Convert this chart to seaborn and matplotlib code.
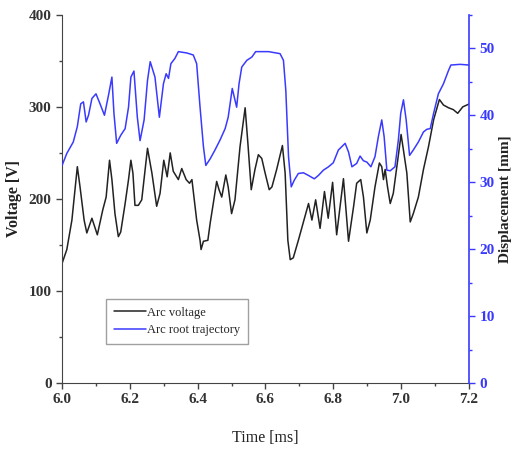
import matplotlib
matplotlib.use("Agg")
import matplotlib.pyplot as plt
from matplotlib.ticker import MultipleLocator, FormatStrFormatter
import seaborn as sns
import pandas as pd

sns.set_style("ticks")
plt.rcParams["font.family"] = ["Liberation Serif", "DejaVu Serif"]

# arc voltage [V] vs time [ms]
t_volt = [6.000, 6.014, 6.029, 6.045, 6.053, 6.065, 6.073, 6.088, 6.104, 6.120,
          6.130, 6.140, 6.147, 6.156, 6.166, 6.173, 6.186, 6.196, 6.203, 6.209,
          6.215, 6.225, 6.235, 6.252, 6.265, 6.279, 6.289, 6.300, 6.310, 6.319,
          6.328, 6.343, 6.353, 6.366, 6.376, 6.383, 6.397, 6.407, 6.410, 6.417,
          6.430, 6.437, 6.446, 6.456, 6.463, 6.471, 6.483, 6.490, 6.500, 6.510,
          6.525, 6.540, 6.548, 6.558, 6.569, 6.579, 6.589, 6.599, 6.611, 6.619,
          6.633, 6.650, 6.658, 6.666, 6.673, 6.682, 6.697, 6.712, 6.727, 6.737,
          6.748, 6.761, 6.774, 6.785, 6.798, 6.810, 6.830, 6.845, 6.860, 6.869,
          6.881, 6.889, 6.899, 6.909, 6.923, 6.936, 6.943, 6.948, 6.953, 6.960,
          6.968, 6.977, 6.990, 7.000, 7.007, 7.017, 7.027, 7.036, 7.051, 7.066,
          7.081, 7.096, 7.113, 7.125, 7.140, 7.154, 7.167, 7.182, 7.200]
voltage = [130, 145, 177, 235, 213, 177, 163, 179, 161, 188,
           202, 242, 221, 184, 159, 164, 195, 221, 242, 228,
           193, 193, 199, 255, 228, 192, 206, 242, 224, 250,
           230, 221, 233, 221, 217, 221, 177, 155, 145, 154,
           155, 174, 195, 219, 210, 202, 226, 213, 184, 199,
           257, 299, 261, 210, 232, 248, 244, 228, 210, 213,
           232, 258, 228, 155, 134, 136, 155, 175, 195, 177,
           199, 168, 208, 179, 218, 161, 222, 154, 192, 217,
           221, 202, 163, 177, 213, 239, 235, 221, 232, 213,
           195, 206, 242, 270, 253, 228, 175, 184, 202, 232,
           257, 286, 308, 302, 299, 297, 293, 300, 303]

# arc root displacement [mm] vs time [ms]
t_disp = [6.000, 6.014, 6.033, 6.045, 6.055, 6.063, 6.071, 6.078, 6.088, 6.100,
          6.112, 6.125, 6.137, 6.147, 6.153, 6.161, 6.173, 6.186, 6.196, 6.203,
          6.212, 6.222, 6.230, 6.242, 6.252, 6.260, 6.274, 6.287, 6.299, 6.307,
          6.314, 6.321, 6.333, 6.343, 6.368, 6.387, 6.397, 6.407, 6.417, 6.424,
          6.437, 6.451, 6.466, 6.481, 6.490, 6.502, 6.508, 6.515, 6.522, 6.530,
          6.545, 6.560, 6.571, 6.609, 6.643, 6.653, 6.660, 6.668, 6.676, 6.685,
          6.697, 6.712, 6.727, 6.744, 6.756, 6.771, 6.786, 6.800, 6.815, 6.835,
          6.845, 6.855, 6.869, 6.879, 6.889, 6.899, 6.911, 6.923, 6.933, 6.943,
          6.950, 6.958, 6.968, 6.982, 6.992, 6.999, 7.007, 7.015, 7.025, 7.036,
          7.051, 7.066, 7.076, 7.086, 7.096, 7.110, 7.125, 7.140, 7.147, 7.174,
          7.200]
displacement = [32.5, 34.3, 36.0, 38.3, 41.7, 42.0, 39.0, 40.0, 42.5, 43.2,
                41.7, 40.0, 43.0, 45.7, 40.3, 35.8, 37.0, 38.0, 41.2, 45.7,
                46.6, 39.7, 36.2, 39.3, 45.2, 48.0, 45.7, 39.7, 44.7, 46.2,
                45.5, 47.7, 48.5, 49.5, 49.3, 49.0, 47.7, 41.2, 35.3, 32.5,
                33.5, 34.8, 36.3, 38.0, 39.7, 44.0, 42.7, 41.2, 44.7, 47.2,
                48.2, 48.7, 49.5, 49.5, 49.2, 48.2, 43.7, 33.8, 29.3, 30.3,
                31.3, 31.4, 31.0, 30.5, 31.0, 31.8, 32.3, 32.9, 34.8, 35.8,
                34.5, 32.3, 32.8, 33.9, 33.2, 33.0, 32.3, 33.8, 36.8, 39.3,
                36.8, 31.8, 31.7, 32.3, 36.3, 40.3, 42.3, 39.3, 34.0, 34.8,
                36.0, 37.5, 37.9, 38.0, 40.3, 43.2, 44.7, 46.7, 47.5, 47.6,
                47.5]

volt_df = pd.DataFrame({"t": t_volt, "v": voltage})
disp_df = pd.DataFrame({"t": t_disp, "d": displacement})

blue = "#3a3aff"

fig = plt.figure(figsize=(5.13, 4.49), dpi=100)
ax = fig.add_axes([0.121, 0.147, 0.793, 0.820])
ax2 = ax.twinx()

sns.lineplot(data=volt_df, x="t", y="v", ax=ax, color="#222222", lw=1.1,
             label="Arc voltage", legend=False)
sns.lineplot(data=disp_df, x="t", y="d", ax=ax2, color=blue, lw=1.1,
             label="Arc root trajectory", legend=False)

ax.xaxis.set_major_locator(MultipleLocator(0.2))
ax.xaxis.set_minor_locator(MultipleLocator(0.1))
ax.xaxis.set_major_formatter(FormatStrFormatter("%.1f"))
ax.yaxis.set_major_locator(MultipleLocator(100))
ax.yaxis.set_minor_locator(MultipleLocator(50))
ax2.yaxis.set_major_locator(MultipleLocator(10))
ax2.yaxis.set_minor_locator(MultipleLocator(5))
ax.set_xlim(6.0, 7.2)
ax.set_ylim(0, 400)
ax2.set_ylim(0, 55)

for a in (ax, ax2):
    a.spines["top"].set_visible(False)
ax.spines["right"].set_visible(False)
ax2.spines["left"].set_visible(False)
ax.spines["left"].set_color("#444444")
ax.spines["bottom"].set_color("#444444")
ax2.spines["bottom"].set_visible(False)
ax2.spines["right"].set_color(blue)
ax2.spines["right"].set_linewidth(1.2)

ax.tick_params(which="major", direction="out", length=4, width=1, colors="#444444",
               labelsize=11, labelcolor="#333333")
ax.tick_params(which="minor", direction="out", length=2.5, width=1, colors="#444444")
ax2.tick_params(which="major", direction="out", length=4, width=1, colors=blue,
                labelsize=11, labelcolor=blue)
ax2.tick_params(which="minor", direction="out", length=2.5, width=1, colors=blue)
for lab in ax.get_xticklabels() + ax.get_yticklabels() + ax2.get_yticklabels():
    lab.set_fontweight("bold")

ax.set_xlabel("Time [ms]", fontsize=11.5, color="#222222", labelpad=17)
ax.set_ylabel("Voltage [V]", fontsize=11.5, fontweight="bold", color="#222222", labelpad=5)
ax2.set_ylabel("Displacement [mm]", fontsize=11, fontweight="bold", color="#222222", labelpad=3)

h1, l1 = ax.get_legend_handles_labels()
h2, l2 = ax2.get_legend_handles_labels()
leg = ax.legend(h1 + h2, l1 + l2, loc="lower left", bbox_to_anchor=(0.108, 0.106),
                fontsize=9, frameon=True, fancybox=False, edgecolor="#888888",
                handlelength=2.6, handletextpad=0.1, borderpad=0.6, labelspacing=0.45,
                borderaxespad=0)
leg.get_frame().set_linewidth(1.0)

fig.savefig("out.png", dpi=100)
